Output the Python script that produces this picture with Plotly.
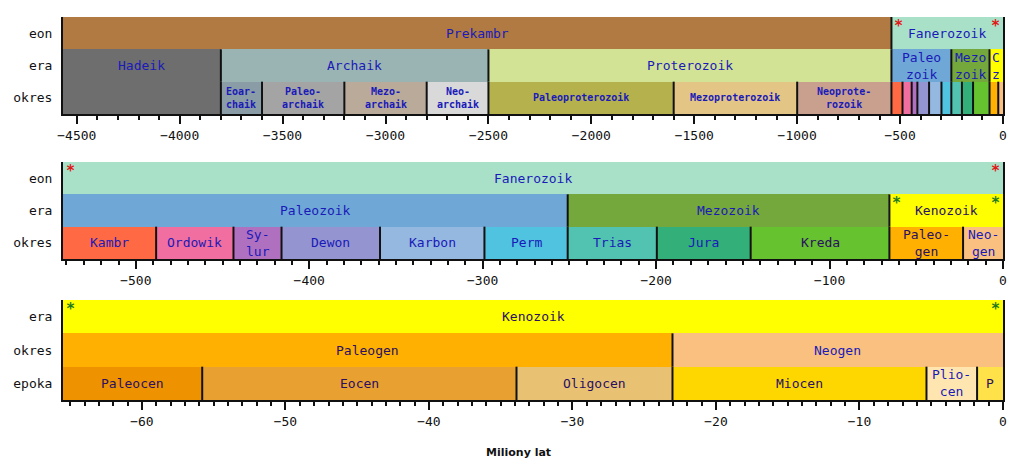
import plotly.graph_objects as go

# ---------------------------------------------------------------- data (Ma)
# Phanerozoic periods (shared by panels 1 and 2)
period_names = ["Kambr", "Ordowik", "Sy-<br>lur", "Dewon", "Karbon", "Perm",
                "Trias", "Jura", "Kreda", "Paleo-<br>gen", "Neo-<br>gen"]
period_bounds = [-542, -488.3, -443.7, -416.0, -359.2, -299.0,
                 -251.0, -199.6, -145.5, -65.5, -23.03, 0]

# Panel 1 - whole Earth history
p1_range = [-4567, 0]
p1_eon_names = ["Prekambr", "Fanerozoik"]
p1_eon_bounds = [-4567, -542, 0]
p1_era_names = ["Hadeik", "Archaik", "Proterozoik", "Paleo<br>zoik", "Mezo<br>zoik", "C<br>z"]
p1_era_bounds = [-4567, -3800, -2500, -542, -251, -65.5, 0]
p1_okres_names = ["", "Eoar-<br>chaik", "Paleo-<br>archaik", "Mezo-<br>archaik", "Neo-<br>archaik",
                  "Paleoproterozoik", "Mezoproterozoik", "Neoprote-<br>rozoik"] + [""] * 11
p1_okres_bounds = [-4567, -3800, -3600, -3200, -2800, -2500, -1600, -1000] + period_bounds

# Panel 2 - Phanerozoic
p2_range = [-542, 0]
p2_eon_names = ["Fanerozoik"]
p2_eon_bounds = [-542, 0]
p2_era_names = ["Paleozoik", "Mezozoik", "Kenozoik"]
p2_era_bounds = [-542, -251, -65.5, 0]

# Panel 3 - Cenozoic
p3_range = [-65.5, 0]
p3_era_names = ["Kenozoik"]
p3_era_bounds = [-65.5, 0]
p3_okres_names = ["Paleogen", "Neogen"]
p3_okres_bounds = [-65.5, -23.03, 0]
p3_epoka_names = ["Paleocen", "Eocen", "Oligocen", "Miocen", "Plio-<br>cen", "P"]
p3_epoka_bounds = [-65.5, -55.8, -33.9, -23.03, -5.332, -1.806, 0]

row_labels_12 = ["eon", "era", "okres"]
row_labels_3 = ["era", "okres", "epoka"]
x_title = "Miliony lat"

# ---------------------------------------------------------------- styles
period_colors = ["#FF6A45", "#F06EA0", "#B070C0", "#9494D0", "#94B8E0", "#4FC3E0",
                 "#52C3B0", "#33B07A", "#66C22E", "#FFB000", "#F9C07F"]
p1_eon_colors = ["#B07A42", "#A8E0C8"]
p1_era_colors = ["#6E6E6E", "#9AB4B4", "#D2E396", "#6FA8D6", "#74A83C", "#FFFF00"]
p1_okres_colors = ["#6E6E6E", "#8A9CA6", "#A4A4A4", "#B9AA9A", "#D9D9D9",
                   "#B5B24E", "#E3C585", "#C9A08E"] + period_colors
p2_eon_colors = ["#A8E0C8"]
p2_era_colors = ["#6FA8D6", "#74A83C", "#FFFF00"]
p3_era_colors = ["#FFFF00"]
p3_okres_colors = ["#FFB000", "#F9C07F"]
p3_epoka_colors = ["#EE9200", "#E8A030", "#E8C272", "#FFD700", "#FFE6B0", "#FFE24A"]

MONO = "DejaVu Sans Mono"
BLUE = "#1a1ab8"
DARK = "#2a0f62"
DARK_LABELS = {"Kenozoik", "Paleo-<br>gen", "Paleogen", "Paleocen", "Eocen",
               "Oligocen", "Miocen", "P", "Kreda"}

# page offset of the figure inside the browser window (default body margin)
OFF = 8
H = 468.0

fig = go.Figure()
annotations = []
line_x = {1: [], 2: [], 3: []}
line_y = {1: [], 2: [], 3: []}


def add_row(panel, row, names, bounds, colors, size=13, bold=False):
    xa = "x" if panel == 1 else f"x{panel}"
    ya = "y" if panel == 1 else f"y{panel}"
    starts = bounds[:-1]
    widths = [e - s for s, e in zip(bounds[:-1], bounds[1:])]
    fig.add_trace(go.Bar(
        orientation="h", base=starts, x=widths, y=[row] * len(starts), width=1.0,
        marker=dict(color=colors, line=dict(width=0)),
        xaxis=xa, yaxis=ya, hoverinfo="skip", showlegend=False))
    for name, s, e in zip(names, bounds[:-1], bounds[1:]):
        if name:
            txt = f"<b>{name}</b>" if bold else name
            annotations.append(dict(
                x=(s + e) / 2, y=row, xref=xa, yref=ya, text=txt, showarrow=False,
                font=dict(family=MONO, size=size,
                          color=DARK if name in DARK_LABELS else BLUE),
                xanchor="center", yanchor="middle"))
    for b in bounds[1:-1]:
        line_x[panel] += [b, b, None]
        line_y[panel] += [row - 0.5, row + 0.5, None]


def star(panel, x, row, color, side):
    xa = "x" if panel == 1 else f"x{panel}"
    ya = "y" if panel == 1 else f"y{panel}"
    annotations.append(dict(
        x=x, y=row + 0.5, xref=xa, yref=ya, text="<b>*</b>", showarrow=False,
        font=dict(family=MONO, size=15, color=color),
        xanchor="left" if side == "l" else "right", yanchor="top",
        xshift=1 if side == "l" else -1, yshift=2))


# Panel 1
add_row(1, 2, p1_eon_names, p1_eon_bounds, p1_eon_colors)
add_row(1, 1, p1_era_names, p1_era_bounds, p1_era_colors)
add_row(1, 0, p1_okres_names, p1_okres_bounds, p1_okres_colors, size=10, bold=True)
# Panel 2
add_row(2, 2, p2_eon_names, p2_eon_bounds, p2_eon_colors)
add_row(2, 1, p2_era_names, p2_era_bounds, p2_era_colors)
add_row(2, 0, period_names, period_bounds, period_colors)
# Panel 3
add_row(3, 2, p3_era_names, p3_era_bounds, p3_era_colors)
add_row(3, 1, p3_okres_names, p3_okres_bounds, p3_okres_colors)
add_row(3, 0, p3_epoka_names, p3_epoka_bounds, p3_epoka_colors)

RED = "#e01818"
GREEN = "#1f7a1f"
star(1, p1_eon_bounds[1], 2, RED, "l")
star(1, p1_eon_bounds[2], 2, RED, "r")
star(2, p2_eon_bounds[0], 2, RED, "l")
star(2, p2_eon_bounds[1], 2, RED, "r")
star(2, p2_era_bounds[2], 1, GREEN, "l")
star(2, p2_era_bounds[3], 1, GREEN, "r")
star(3, p3_era_bounds[0], 2, GREEN, "l")
star(3, p3_era_bounds[1], 2, GREEN, "r")

for p in (1, 2, 3):
    fig.add_trace(go.Scatter(
        x=line_x[p], y=line_y[p], mode="lines",
        line=dict(color="#111111", width=2),
        xaxis="x" if p == 1 else f"x{p}", yaxis="y" if p == 1 else f"y{p}",
        hoverinfo="skip", showlegend=False))

annotations.append(dict(
    x=0.485, y=1 - (452 - OFF) / H, xref="paper", yref="paper", text=f"<b>{x_title}</b>",
    showarrow=False, font=dict(family="DejaVu Sans", size=11, color="#111"),
    xanchor="center", yanchor="middle"))


def ydom(top, bottom):
    return [1 - (bottom - OFF) / H, 1 - (top - OFF) / H]


def xaxis(anchor, rng, dtick, minor):
    return dict(
        anchor=anchor, domain=[0, 1], range=rng, dtick=dtick, tick0=0,
        showgrid=False, zeroline=False, showline=True, linecolor="#111", linewidth=2,
        ticks="outside", ticklen=8, tickwidth=1.5, tickcolor="#111",
        tickfont=dict(family=MONO, size=13, color="#111"), ticklabelstandoff=0,
        minor=dict(dtick=minor, tick0=0, ticks="outside", ticklen=4,
                   tickwidth=1.5, tickcolor="#111", showgrid=False),
        fixedrange=True)


def yaxis(anchor, dom, labels):
    return dict(
        anchor=anchor, domain=dom, range=[-0.5, 2.5], tickvals=[2, 1, 0], ticktext=labels,
        showgrid=False, zeroline=False, showline=True, mirror=True, linecolor="#111",
        linewidth=2, ticks="", tickfont=dict(family=MONO, size=13, color="#111"),
        ticklabelstandoff=6, fixedrange=True)


fig.update_layout(
    width=1024, height=468, margin=dict(l=63 - OFF, r=21 + OFF, t=0, b=0),
    paper_bgcolor="white", plot_bgcolor="white", barmode="overlay", bargap=0,
    xaxis=xaxis("y", p1_range, 500, 100),
    xaxis2=xaxis("y2", p2_range, 100, 10),
    xaxis3=xaxis("y3", p3_range, 10, 1),
    yaxis=yaxis("x", ydom(17, 114), row_labels_12),
    yaxis2=yaxis("x2", ydom(162, 259), row_labels_12),
    yaxis3=yaxis("x3", ydom(300, 400), row_labels_3),
    annotations=annotations,
)

fig.write_html("out.html")
